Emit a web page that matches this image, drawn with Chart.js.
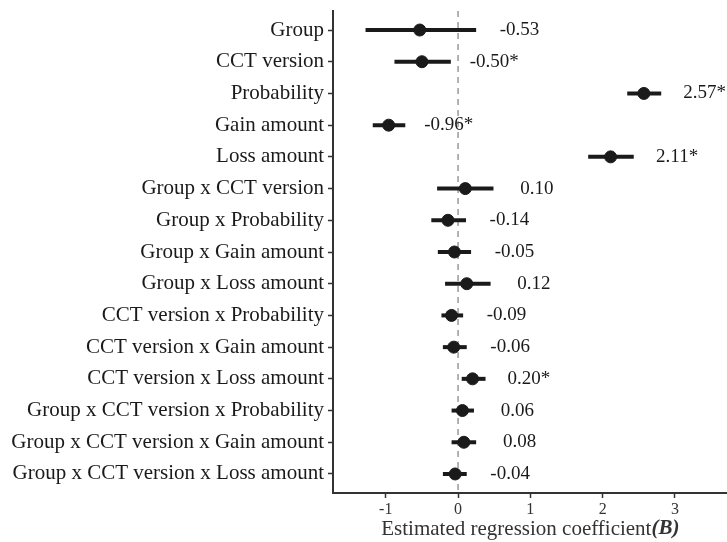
<!DOCTYPE html>
<html>
<head>
<meta charset="utf-8">
<script src="https://cdn.jsdelivr.net/npm/chart.js@4.4.1/dist/chart.umd.min.js"></script>
<style>
  body { margin: 0; background: #fff; }
  #wrap { width: 727px; height: 542px; position: relative; }
</style>
</head>
<body>
<div id="wrap"><canvas id="forest"></canvas></div>
<script>
const terms = [
    'Group', 'CCT version', 'Probability', 'Gain amount', 'Loss amount',
    'Group x CCT version', 'Group x Probability', 'Group x Gain amount', 'Group x Loss amount',
    'CCT version x Probability', 'CCT version x Gain amount', 'CCT version x Loss amount',
    'Group x CCT version x Probability', 'Group x CCT version x Gain amount', 'Group x CCT version x Loss amount'
];
const estimates = [-0.53, -0.50, 2.57, -0.96, 2.11, 0.10, -0.14, -0.05, 0.12, -0.09, -0.06, 0.20, 0.06, 0.08, -0.04];
const lower = [-1.28, -0.88, 2.34, -1.18, 1.80, -0.29, -0.37, -0.28, -0.18, -0.23, -0.21, 0.05, -0.09, -0.09, -0.21];
const upper = [0.25, -0.10, 2.81, -0.73, 2.43, 0.49, 0.11, 0.18, 0.45, 0.07, 0.12, 0.38, 0.22, 0.25, 0.12];
const valueLabels = ['-0.53', '-0.50*', '2.57*', '-0.96*', '2.11*', '0.10', '-0.14', '-0.05', '0.12', '-0.09', '-0.06', '0.20*', '0.06', '0.08', '-0.04'];
const xTicks = [-1, 0, 1, 2, 3];

const serif = '"Liberation Serif", "Times New Roman", serif';
const ink = '#1a1a1a';

// one little line dataset per confidence interval
const ciSets = terms.map((t, i) => ({
    type: 'line',
    data: [{ x: lower[i], y: i }, { x: upper[i], y: i }],
    borderColor: ink,
    borderWidth: 4,
    pointRadius: 0,
    showLine: true,
    fill: false
}));

const zeroLine = {
    id: 'zeroLine',
    beforeDatasetsDraw(chart) {
        const { ctx, chartArea, scales } = chart;
        const x = scales.x.getPixelForValue(0);
        ctx.save();
        ctx.strokeStyle = '#9a9a9a';
        ctx.lineWidth = 1.5;
        ctx.setLineDash([6, 5]);
        ctx.beginPath();
        ctx.moveTo(x, chartArea.top);
        ctx.lineTo(x, chartArea.bottom);
        ctx.stroke();
        ctx.restore();
    }
};

const textBits = {
    id: 'textBits',
    afterDraw(chart) {
        const { ctx, scales } = chart;
        ctx.save();
        ctx.fillStyle = ink;
        ctx.textAlign = 'center';
        ctx.textBaseline = 'middle';
        ctx.font = '19px ' + serif;
        valueLabels.forEach((lab, i) => {
            ctx.fillText(lab, scales.x.getPixelForValue(upper[i] + 0.6), scales.y.getPixelForValue(i));
        });
        // axis title, with the (B) part in bold italic
        const a = 'Estimated regression coefficient';
        const b = '(B)';
        ctx.font = '21px ' + serif;
        const wa = ctx.measureText(a).width;
        ctx.font = 'italic bold 21px ' + serif;
        const wb = ctx.measureText(b).width;
        const cx = scales.x.getPixelForValue(1);
        const start = cx - (wa + wb) / 2;
        ctx.textAlign = 'left';
        ctx.fillStyle = '#333';
        ctx.font = '21px ' + serif;
        ctx.fillText(a, start, 529);
        ctx.font = 'italic bold 21px ' + serif;
        ctx.fillText(b, start + wa, 529);
        ctx.restore();
    }
};

new Chart(document.getElementById('forest'), {
    type: 'scatter',
    data: {
        datasets: ciSets.concat([{
            type: 'scatter',
            data: estimates.map((e, i) => ({ x: e, y: i })),
            backgroundColor: ink,
            borderColor: ink,
            pointRadius: 6
        }])
    },
    options: {
        responsive: true,
        maintainAspectRatio: false,
        animation: false,
        layout: { autoPadding: false, padding: { top: 11, right: 0, left: 0, bottom: 0 } },
        plugins: {
            legend: { display: false },
            tooltip: { enabled: false }
        },
        scales: {
            x: {
                type: 'linear',
                min: -1.73,
                max: 3.72,
                afterBuildTicks: s => { s.ticks = xTicks.map(v => ({ value: v })); },
                afterFit: s => { s.height = 49; s.paddingLeft = 0; s.paddingRight = 0; },
                grid: { drawOnChartArea: false, drawTicks: true, tickLength: 5, color: '#333', tickWidth: 1.5 },
                border: { display: true, color: '#333', width: 2 },
                ticks: {
                    color: '#333',
                    padding: 2,
                    font: { family: serif, size: 16 }
                }
            },
            y: {
                type: 'linear',
                reverse: true,
                min: -0.6,
                max: 14.6,
                afterBuildTicks: s => { s.ticks = terms.map((t, i) => ({ value: i })); },
                afterFit: s => { s.width = 333; s.paddingTop = 0; s.paddingBottom = 0; },
                grid: { drawOnChartArea: false, drawTicks: true, tickLength: 5, color: '#333', tickWidth: 1.5 },
                border: { display: true, color: '#333', width: 2 },
                ticks: {
                    color: ink,
                    padding: 4,
                    font: { family: serif, size: 21 },
                    callback: v => terms[v]
                }
            }
        }
    },
    plugins: [zeroLine, textBits]
});
</script>
</body>
</html>
